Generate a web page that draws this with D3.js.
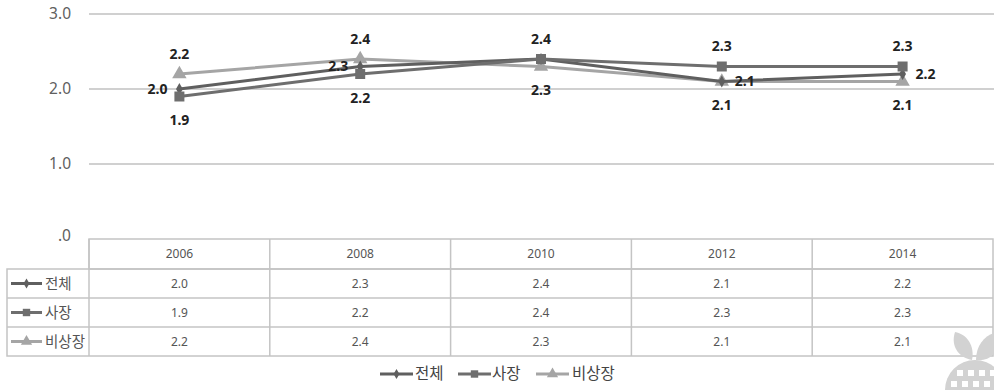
<!DOCTYPE html>
<html>
<head>
<meta charset="utf-8">
<script src="https://cdn.jsdelivr.net/npm/d3@7"></script>
<style>
  html, body { margin: 0; padding: 0; background: #fff; }
  svg { display: block; }
</style>
</head>
<body>
<svg id="chart" width="994" height="390"></svg>
<script>
// Survey years and series values
const years = ["2006", "2008", "2010", "2012", "2014"];
const seriesNames = ["전체", "사장", "비상장"];
const totalValues = [2.0, 2.3, 2.4, 2.1, 2.2];
const ownerValues = [1.9, 2.2, 2.4, 2.3, 2.3];
const nonListedValues = [2.2, 2.4, 2.3, 2.1, 2.1];
const yTicks = [0, 1, 2, 3];
const yTickLabels = [".0", "1.0", "2.0", "3.0"];
// Where each data label sits relative to its point
const totalLabelPos = ["left", "left", null, "right", "right"];
const ownerLabelPos = ["below", "below", "above", "above", "above"];
const nonListedLabelPos = ["above", "above", "below", "below", "below"];

const series = [
  { name: seriesNames[0], values: totalValues, pos: totalLabelPos, color: "#5f5f5f", marker: "diamond", width: 3 },
  { name: seriesNames[1], values: ownerValues, pos: ownerLabelPos, color: "#6e6e6e", marker: "square", width: 3 },
  { name: seriesNames[2], values: nonListedValues, pos: nonListedLabelPos, color: "#a5a5a5", marker: "triangle", width: 3 }
];

const svg = d3.select("#chart");
const fontLatin = "'Noto Sans', 'Open Sans', sans-serif";
const fontKr = "'Noto Sans CJK KR', 'Noto Sans', sans-serif";

const x = d3.scaleBand().domain(years).range([89, 993]);
const y = d3.scaleLinear().domain([0, 3]).range([239, 14]);
const cx = d => x(d) + x.bandwidth() / 2;

// Horizontal gridlines
svg.append("g").selectAll("line").data(yTicks.filter(t => t > 0)).join("line")
  .attr("x1", 89).attr("x2", 994)
  .attr("y1", d => y(d)).attr("y2", d => y(d))
  .attr("stroke", "#c0c0c0").attr("stroke-width", 1.5);

// Y axis labels
const yAxis = d3.axisLeft(y).tickValues(yTicks).tickFormat((d, i) => yTickLabels[i]).tickSize(0).tickPadding(0);
const yg = svg.append("g").attr("transform", "translate(71,0)").call(yAxis);
yg.select(".domain").remove();
yg.selectAll("text")
  .attr("font-family", fontLatin).attr("font-size", 15.5).attr("fill", "#606060")
  .attr("dy", "0.32em");
yg.selectAll(".tick").filter(d => d === 0).select("text").attr("dy", "0.1em");

// Marker shapes
const symbolFor = {
  diamond: d3.symbol().type(d3.symbolDiamond).size(40),
  square: d3.symbol().type(d3.symbolSquare).size(100),
  triangle: d3.symbol().type(d3.symbolTriangle).size(90)
};

const line = d3.line().x((d, i) => cx(years[i])).y(d => y(d));

// Draw the lighter series first so darker lines stay on top
const drawOrder = [series[2], series[0], series[1]];
drawOrder.forEach(s => {
  svg.append("path").datum(s.values)
    .attr("d", line).attr("fill", "none")
    .attr("stroke", s.color).attr("stroke-width", s.width);
  svg.append("g").selectAll("path").data(s.values).join("path")
    .attr("d", symbolFor[s.marker])
    .attr("transform", (d, i) => `translate(${cx(years[i])},${y(d)})`)
    .attr("fill", s.color);
});

// Data labels
const labelG = svg.append("g")
  .attr("font-family", fontLatin).attr("font-size", 14).attr("font-weight", "bold").attr("fill", "#222");
series.forEach(s => {
  s.values.forEach((v, i) => {
    const p = s.pos[i];
    if (!p) return;
    let lx = cx(years[i]), ly = y(v), anchor = "middle";
    if (p === "above") ly -= 20;
    if (p === "below") ly += 24;
    if (p === "left") { lx -= 12; anchor = "end"; }
    if (p === "right") { lx += 13; anchor = "start"; }
    labelG.append("text")
      .attr("x", lx).attr("y", ly).attr("dy", "0.35em")
      .attr("text-anchor", anchor).text(v.toFixed(1));
  });
});

// Data table under the plot
const headerTop = 239, headerH = 30, rowH = 29, tableLeft = 7, colLeft = 89, tableRight = 993;
const rowTop = i => headerTop + headerH + i * rowH;
const tbl = svg.append("g");
const gridColor = "#c4c4c4";

// header row box
tbl.append("rect").attr("x", colLeft).attr("y", headerTop)
  .attr("width", tableRight - colLeft).attr("height", headerH)
  .attr("fill", "none").attr("stroke", gridColor).attr("stroke-width", 1.5);
// data rows box
tbl.append("rect").attr("x", tableLeft).attr("y", rowTop(0))
  .attr("width", tableRight - tableLeft).attr("height", rowH * series.length)
  .attr("fill", "none").attr("stroke", gridColor).attr("stroke-width", 1.5);
// row separators
tbl.selectAll("line.row").data(d3.range(1, series.length)).join("line")
  .attr("x1", tableLeft).attr("x2", tableRight)
  .attr("y1", d => rowTop(d)).attr("y2", d => rowTop(d))
  .attr("stroke", gridColor).attr("stroke-width", 1.5);
// column separators
tbl.selectAll("line.col").data(years).join("line")
  .attr("x1", d => x(d)).attr("x2", d => x(d))
  .attr("y1", headerTop)
  .attr("y2", rowTop(series.length))
  .attr("stroke", gridColor).attr("stroke-width", 1.5);

// header text
tbl.selectAll("text.year").data(years).join("text")
  .attr("x", d => cx(d)).attr("y", headerTop + headerH / 2).attr("dy", "0.35em")
  .attr("text-anchor", "middle").attr("font-family", fontLatin).attr("font-size", 12)
  .attr("fill", "#555").text(d => d);

// legend key drawn in a small group
function legendKey(g, s, x0, yc, len) {
  g.append("line").attr("x1", x0).attr("x2", x0 + len).attr("y1", yc).attr("y2", yc)
    .attr("stroke", s.color).attr("stroke-width", 3);
  g.append("path").attr("d", symbolFor[s.marker].size(s.marker === "diamond" ? 30 : 55)())
    .attr("transform", `translate(${x0 + len / 2},${yc})`).attr("fill", s.color);
}

series.forEach((s, r) => {
  const yc = rowTop(r) + rowH / 2;
  legendKey(tbl, s, 11, yc, 31);
  tbl.append("text").attr("x", 45).attr("y", yc).attr("dy", "0.35em")
    .attr("font-family", fontKr).attr("font-size", 14.5).attr("fill", "#555").text(s.name);
  tbl.append("g").selectAll("text").data(s.values).join("text")
    .attr("x", (d, i) => cx(years[i])).attr("y", yc).attr("dy", "0.35em")
    .attr("text-anchor", "middle").attr("font-family", fontLatin).attr("font-size", 12)
    .attr("fill", "#555").text(d => d.toFixed(1));
});

// Bottom legend
const legend = svg.append("g");
const legendItems = [
  { s: series[0], x0: 380, tx: 415 },
  { s: series[1], x0: 458, tx: 492 },
  { s: series[2], x0: 536, tx: 572 }
];
legendItems.forEach(it => {
  legendKey(legend, it.s, it.x0, 374, 33);
  legend.append("text").attr("x", it.tx).attr("y", 374).attr("dy", "0.35em")
    .attr("font-family", fontKr).attr("font-size", 15.5).attr("fill", "#444").text(it.s.name);
});

// Publisher emblem in the corner: a globe with two leaves
const emb = svg.append("g").attr("fill", "#d2d2d2");
emb.append("circle").attr("cx", 975).attr("cy", 390).attr("r", 30);
emb.append("path").attr("d", "M972,360 C960,358 950,347 955,332 C967,334 975,346 972,360 Z");
emb.append("path").attr("d", "M976,360 C976,346 984,336 994,333 L994,354 C989,359 983,361 976,360 Z");
const cut = svg.append("g").attr("fill", "#fff");
[[957, 370], [968, 370], [979, 370], [990, 370], [951, 381], [962, 381], [973, 381], [984, 381]].forEach(p => {
  cut.append("rect").attr("x", p[0]).attr("y", p[1]).attr("width", 6).attr("height", 6);
});
</script>
</body>
</html>
